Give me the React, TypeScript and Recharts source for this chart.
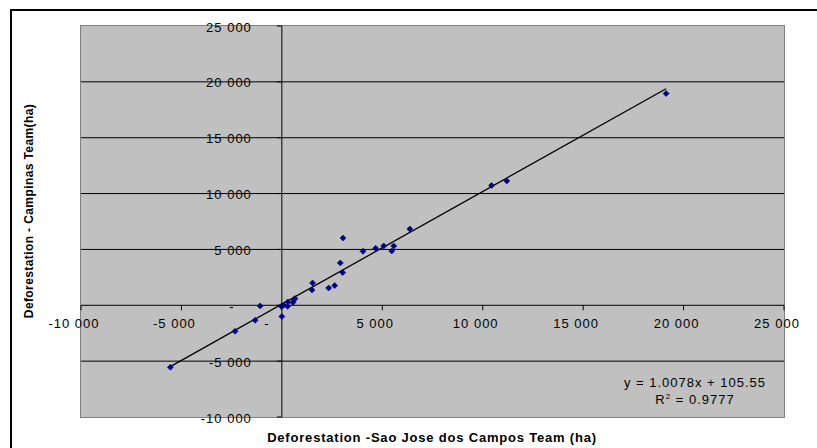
import React from 'react';
import {
  CartesianGrid,
  ReferenceLine,
  Scatter,
  ScatterChart,
  XAxis,
  YAxis,
} from 'recharts';

// Sao Jose dos Campos team (x) vs Campinas team (y), hectares
const sjcValues = [
  -5550, -2330, -1330, -1080, 0, -30, 85, 285, 300, 550, 600, 650, 1500, 1530, 2330, 2630,
  2910, 3030, 3045, 4040, 4670, 5070, 5470, 5570, 6370, 10440, 11200, 19130,
];
const campinasValues = [
  -5550, -2330, -1340, -60, -1000, -90, 0, -90, 300, 250, 500, 600, 1370, 2000, 1550, 1760,
  3790, 2925, 6025, 4830, 5100, 5310, 4860, 5310, 6830, 10720, 11130, 18950,
];
const axisTicks = [-10000, -5000, 0, 5000, 10000, 15000, 20000, 25000];
const gridValues = [-5000, 5000, 10000, 15000, 20000];

const slope = 1.0078;
const intercept = 105.55;

const W = 817;
const H = 448;
// plot area: x 81..784, y 26..417 (axes take 1px each)
const M = { top: 26, right: 33, bottom: 30, left: 80 };
const MIN = -10000;
const MAX = 25000;
const FONT = '"Liberation Sans", Arial, sans-serif';

const plotL = M.left + 1;
const plotW = W - plotL - M.right;
const plotH = H - M.top - M.bottom - 1;
const xZero = plotL + ((0 - MIN) / (MAX - MIN)) * plotW;
const yZero = M.top + ((MAX - 0) / (MAX - MIN)) * plotH;

const points = sjcValues.map((x, i) => ({ x, y: campinasValues[i] }));
const xLo = Math.min(...sjcValues);
const xHi = Math.max(...sjcValues);

function fmt(v: number): string {
  if (v === 0) return '-';
  const s = Math.abs(v).toString().replace(/\B(?=(\d{3})+(?!\d))/g, ' ');
  return v < 0 ? `-${s}` : s;
}

function XTick(props: any) {
  const { x, payload } = props;
  const v = payload.value as number;
  return (
    <g>
      <line x1={x} x2={x} y1={yZero} y2={yZero + 5} stroke="#000" />
      <text
        x={v === 0 ? x - 15 : x - 7}
        y={yZero + 18}
        textAnchor="middle"
        dominantBaseline="central"
        fontFamily={FONT}
        fontSize={13}
        letterSpacing={1}
        fill="#000"
      >
        {fmt(v)}
      </text>
    </g>
  );
}

function YTick(props: any) {
  const { y, payload } = props;
  const v = payload.value as number;
  return (
    <g>
      <line x1={xZero - 5} x2={xZero} y1={y} y2={y} stroke="#000" />
      <text
        x={v === 0 ? xZero - 50 : xZero - 30}
        y={y + 1}
        textAnchor={v === 0 ? 'middle' : 'end'}
        dominantBaseline="central"
        fontFamily={FONT}
        fontSize={13}
        letterSpacing={1}
        fill="#000"
      >
        {fmt(v)}
      </text>
    </g>
  );
}

function Diamond(props: any) {
  const { cx, cy } = props;
  if (cx == null || cy == null) return <g />;
  return (
    <polygon
      points={`${cx},${cy - 3} ${cx + 3},${cy} ${cx},${cy + 3} ${cx - 3},${cy}`}
      fill="#000080"
      stroke="#000080"
      strokeWidth={0.6}
    />
  );
}

export default function App() {
  return (
    <div
      style={{
        position: 'absolute',
        left: 0,
        top: 0,
        width: W,
        height: H,
        background: '#fff',
        overflow: 'hidden',
        fontFamily: FONT,
      }}
    >
      <div
        style={{
          position: 'absolute',
          left: 10,
          top: 9,
          width: W,
          height: H,
          borderTop: '2px solid #000',
          borderLeft: '2px solid #000',
        }}
      />
      {/* plot area background, drawn behind the svg */}
      <div
        style={{
          position: 'absolute',
          left: plotL - 1,
          top: M.top - 1,
          width: plotW + 2,
          height: plotH + 2,
          boxSizing: 'border-box',
          background: '#c0c0c0',
          border: '1.5px solid #808080',
        }}
      />
      <ScatterChart width={W} height={H} margin={M} style={{ position: 'absolute', left: 0, top: 0 }}>
        <CartesianGrid
          vertical={false}
          horizontalValues={gridValues}
          stroke="#000"
          strokeOpacity={1}
        />
        <XAxis
          type="number"
          dataKey="x"
          domain={[MIN, MAX]}
          ticks={axisTicks}
          allowDataOverflow
          axisLine={false}
          tickLine={false}
          height={1}
          tick={(p: any) => <XTick {...p} />}
          interval={0}
        />
        <YAxis
          type="number"
          dataKey="y"
          domain={[MIN, MAX]}
          ticks={axisTicks}
          allowDataOverflow
          axisLine={false}
          tickLine={false}
          width={1}
          tick={(p: any) => <YTick {...p} />}
          interval={0}
        />
        <ReferenceLine x={0} stroke="#000" strokeWidth={1} />
        <ReferenceLine y={0} stroke="#000" strokeWidth={1} />
        <ReferenceLine
          segment={[
            { x: xLo, y: slope * xLo + intercept },
            { x: xHi, y: slope * xHi + intercept },
          ]}
          stroke="#000"
          strokeWidth={1.3}
        />
        <Scatter data={points} shape={<Diamond />} isAnimationActive={false} />
      </ScatterChart>
      <div
        style={{
          position: 'absolute',
          left: 29,
          top: 211,
          transform: 'translate(-50%, -50%) rotate(-90deg)',
          whiteSpace: 'nowrap',
          fontSize: 12,
          fontWeight: 'bold',
          letterSpacing: 0.4,
        }}
      >
        Deforestation - Campinas Team(ha)
      </div>
      <div
        style={{
          position: 'absolute',
          left: 432,
          top: 437,
          transform: 'translate(-50%, -50%)',
          whiteSpace: 'nowrap',
          fontSize: 13,
          fontWeight: 'bold',
          letterSpacing: 0.8,
        }}
      >
        Deforestation -Sao Jose dos Campos Team (ha)
      </div>
      <div
        style={{
          position: 'absolute',
          left: 695,
          top: 391,
          transform: 'translate(-50%, -50%)',
          textAlign: 'center',
          whiteSpace: 'nowrap',
          fontSize: 13,
          letterSpacing: 1,
          lineHeight: '17px',
        }}
      >
        <div>y = 1.0078x + 105.55</div>
        <div>
          R<sup style={{ fontSize: 8, lineHeight: 0 }}>2</sup> = 0.9777
        </div>
      </div>
    </div>
  );
}
